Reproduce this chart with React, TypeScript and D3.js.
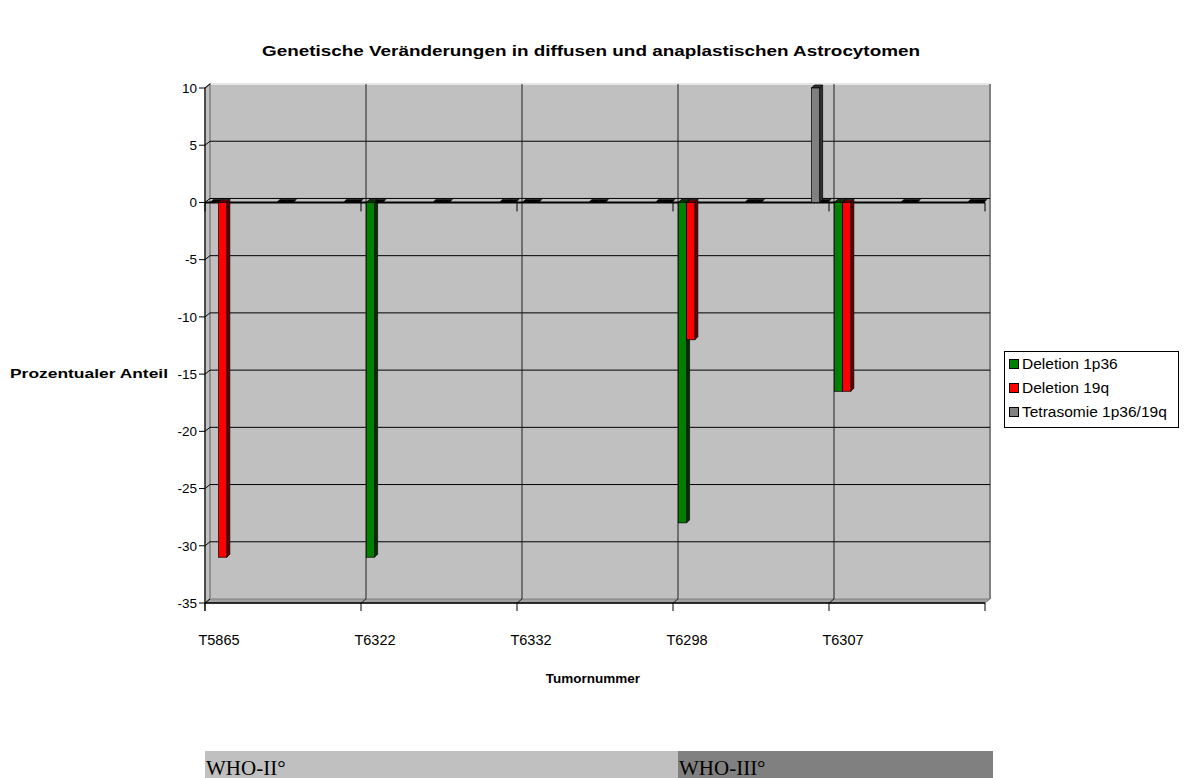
import * as d3 from 'd3';

const categories = ['T5865', 'T6322', 'T6332', 'T6298', 'T6307'];
const deletion1p36 = [0, -31, 0, -28, -16.5];
const deletion19q = [-31, 0, 0, -12, -16.5];
const tetrasomie = [0, 0, 0, 10, 0];
const yTicks = [10, 5, 0, -5, -10, -15, -20, -25, -30, -35];

const seriesNames = ['Deletion 1p36', 'Deletion 19q', 'Tetrasomie 1p36/19q'];
const seriesColors = ['#008000', '#ff0000', '#808080'];
const seriesDark = ['#003300', '#600000', '#303030'];

const W = 1184;
const H = 778;
const font = 'Arial, "Liberation Sans", sans-serif';

// wall depth and bar depth (3D offsets)
const DX = 5;
const DY = -4;
const BDX = 3;
const BDY = -3;

const x = d3.scaleBand<string>().domain(categories).range([205, 985]);
const bw = x.bandwidth();
const slot = d3.scalePoint<string>().domain(['a', 'b', 'c']).range([bw * 0.087, bw * 0.94]);
const barW = bw * 0.053;
const y = d3.scaleLinear().domain([-35, 10]).range([603, 88]);

const series = [
  { values: deletion1p36, slot: 'a', pos: 0 },
  { values: deletion19q, slot: 'a', pos: 1 },
  { values: tetrasomie, slot: 'c', pos: 0 },
];
// positions inside each category that only show an empty (zero) cap
const emptyCaps = [
  { slot: 'b', pos: 0 },
  { slot: 'b', pos: 1 },
  { slot: 'c', pos: 1 },
];

const barX = (cat: string, s: string, pos: number) =>
  (x(cat) ?? 0) + (slot(s) ?? 0) - barW + pos * barW;

function Bar({ xl, v, color, dark }: { xl: number; v: number; color: string; dark: string }) {
  const y0 = y(0);
  if (v === 0) {
    const pts = [
      [xl, y0],
      [xl + barW, y0],
      [xl + barW + BDX, y0 + BDY],
      [xl + BDX, y0 + BDY],
    ];
    return <polygon points={pts.map((p) => p.join(',')).join(' ')} fill="#000" stroke="#000" strokeWidth={0.6} />;
  }
  const yv = y(v);
  const top = Math.min(y0, yv);
  const bottom = Math.max(y0, yv);
  const side = [
    [xl + barW, top],
    [xl + barW + BDX, top + BDY],
    [xl + barW + BDX, bottom + BDY],
    [xl + barW, bottom],
  ];
  const cap = [
    [xl, top],
    [xl + barW, top],
    [xl + barW + BDX, top + BDY],
    [xl + BDX, top + BDY],
  ];
  return (
    <g stroke="#000" strokeWidth={0.7}>
      <polygon points={side.map((p) => p.join(',')).join(' ')} fill={dark} />
      <polygon points={cap.map((p) => p.join(',')).join(' ')} fill={dark} />
      <rect x={xl} y={top} width={barW} height={bottom - top} fill={color} />
    </g>
  );
}

export default function App() {
  const left = x.range()[0];
  const right = x.range()[1];
  const yTop = y(10);
  const yBot = y(-35);
  const bounds = [...categories.map((c) => x(c) ?? 0), right];

  return (
    <svg
      width={W}
      height={H}
      style={{ position: 'absolute', left: 0, top: 0, display: 'block', background: '#fff' }}
      fontFamily={font}
    >
      <text x={262} y={56} fontSize={15} fontWeight="bold" textLength={658} lengthAdjust="spacingAndGlyphs">
        Genetische Veränderungen in diffusen und anaplastischen Astrocytomen
      </text>

      {/* back wall */}
      <rect x={left + DX} y={yTop + DY} width={right - left} height={yBot - yTop} fill="#c0c0c0" />
      <line x1={left + DX} x2={right + DX} y1={yTop + DY} y2={yTop + DY} stroke="#e6e6e6" strokeWidth={2} />
      {/* left wall */}
      <polygon
        points={`${left},${yTop} ${left + DX},${yTop + DY} ${left + DX},${yBot + DY} ${left},${yBot}`}
        fill="#c0c0c0"
        stroke="#808080"
        strokeWidth={1.5}
      />
      {/* floor */}
      <polygon
        points={`${left},${yBot} ${right},${yBot} ${right + DX},${yBot + DY} ${left + DX},${yBot + DY}`}
        fill="#a0a0a0"
        stroke="#808080"
        strokeWidth={1}
      />
      <line x1={right + DX} x2={right + DX} y1={yTop + DY} y2={yBot + DY} stroke="#808080" strokeWidth={2} />

      {/* horizontal gridlines */}
      {yTicks.map((t) => (
        <g key={t}>
          {t !== 10 && t !== -35 && (
            <line x1={left + DX} x2={right + DX} y1={y(t) + DY} y2={y(t) + DY} stroke="#000" strokeWidth={1} />
          )}
          <line x1={left} x2={left + DX} y1={y(t)} y2={y(t) + DY} stroke="#000" strokeWidth={1} />
          <line x1={left - 6} x2={left} y1={y(t)} y2={y(t)} stroke="#000" strokeWidth={1} />
          <text x={left - 8} y={y(t)} dy="0.35em" textAnchor="end" fontSize={13.5}>
            {t}
          </text>
        </g>
      ))}

      {/* vertical gridlines */}
      {bounds.slice(1, -1).map((b, i) => (
        <g key={i}>
          <line x1={b + DX} x2={b + DX} y1={yTop + DY} y2={yBot + DY} stroke="#202020" strokeWidth={1} />
          <line x1={b} x2={b + DX} y1={yBot} y2={yBot + DY} stroke="#202020" strokeWidth={1} />
        </g>
      ))}

      {/* axes */}
      <line x1={left} x2={left} y1={yTop} y2={yBot + 8} stroke="#000" strokeWidth={1} />
      <line x1={left} x2={right} y1={yBot} y2={yBot} stroke="#000" strokeWidth={1.5} />
      <line x1={left} x2={right} y1={y(0)} y2={y(0)} stroke="#000" strokeWidth={2} />
      {bounds.map((b, i) => (
        <g key={i}>
          <line x1={b} x2={b} y1={yBot} y2={yBot + 8} stroke="#000" strokeWidth={1} />
          <line x1={b} x2={b} y1={y(0)} y2={y(0) + 9} stroke="#000" strokeWidth={1} />
        </g>
      ))}

      {/* bars */}
      {categories.map((c, ci) => (
        <g key={c}>
          {emptyCaps.map((e, k) => (
            <Bar key={'e' + k} xl={barX(c, e.slot, e.pos)} v={0} color="#000" dark="#000" />
          ))}
          {series.map((s, si) => (
            <Bar
              key={si}
              xl={barX(c, s.slot, s.pos)}
              v={s.values[ci]}
              color={seriesColors[si]}
              dark={seriesDark[si]}
            />
          ))}
        </g>
      ))}

      {/* category labels */}
      {categories.map((c) => (
        <text key={c} x={(x(c) ?? 0) + 14} y={645} textAnchor="middle" fontSize={14.5}>
          {c}
        </text>
      ))}

      <text x={593} y={683} textAnchor="middle" fontSize={13.5} fontWeight="bold">
        Tumornummer
      </text>
      <text x={10} y={378} fontSize={13.5} fontWeight="bold" textLength={158} lengthAdjust="spacingAndGlyphs">
        Prozentualer Anteil
      </text>

      {/* legend */}
      <rect x={1004.5} y={351.5} width={174} height={76} fill="#fff" stroke="#000" strokeWidth={1} />
      {seriesNames.map((n, i) => (
        <g key={n} transform={`translate(1009,${364 + i * 24})`}>
          <rect x={0.5} y={-4.5} width={9} height={9} fill={seriesColors[i]} stroke="#000" strokeWidth={1} />
          <text x={13} y={0} dy="0.35em" fontSize={15.5}>
            {n}
          </text>
        </g>
      ))}

      {/* WHO grade bands */}
      <rect x={205} y={751} width={473} height={H - 751} fill="#c0c0c0" />
      <rect x={678} y={751} width={315} height={H - 751} fill="#808080" />
      <text x={206} y={775} fontSize={21} fontFamily='"Liberation Serif", "Times New Roman", serif'>
        WHO-II°
      </text>
      <text x={679} y={775} fontSize={21} fontFamily='"Liberation Serif", "Times New Roman", serif'>
        WHO-III°
      </text>
    </svg>
  );
}
